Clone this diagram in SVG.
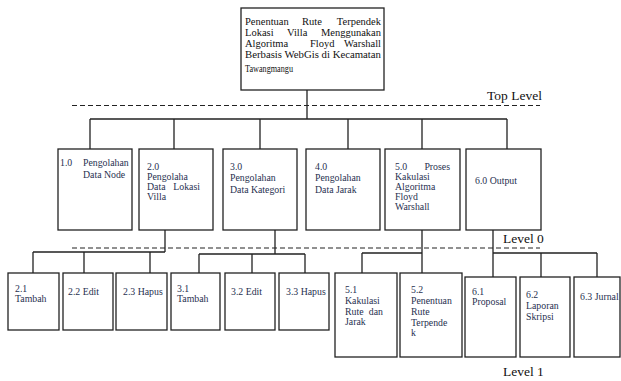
<svg xmlns="http://www.w3.org/2000/svg" width="621" height="381" viewBox="0 0 621 381">
<style>
.box{fill:#fff;stroke:#222;stroke-width:1.3}
.ln{fill:none;stroke:#222;stroke-width:1.3}
.dash{fill:none;stroke:#222;stroke-width:1.2;stroke-dasharray:5,3}
.t{font-family:"Liberation Serif","Times New Roman",serif;font-size:9.8px;fill:#27304f}
.title{font-family:"Liberation Serif","Times New Roman",serif;font-size:10.5px;fill:#111}
.lvl{font-family:"Liberation Serif","Times New Roman",serif;font-size:13.5px;fill:#111}
.e{text-anchor:end}
</style>
<rect width="621" height="381" fill="#fff"/>
<g id="connectors">
<path class="ln" d="M307 90V119M90 119H507M90 119V149M174 119V149M260 119V149M348 119V149M422 119V149M507 119V149"/>
<path class="ln" d="M165 230V252M33 252H165M33 252V273M84 252V273M150 252V273"/>
<path class="ln" d="M275 230V254M199 254H305M199 254V273M252 254V273M305 254V273"/>
<path class="ln" d="M422 230V273M362 253H422M362 253V273"/>
<path class="ln" d="M493 230V277M493 253H597M541 253V277M597 253V277"/>
</g>
<g id="levels">
<path class="dash" d="M72 105.5H540"/>
<text class="lvl" x="487" y="100">Top Level</text>
<path class="dash" d="M72 248H540"/>
<text class="lvl" x="503" y="243">Level 0</text>
<text class="lvl" x="503" y="376">Level 1</text>
</g>
<g id="root">
<rect class="box" x="241" y="8" width="143" height="82"/>
<text class="title" x="245" y="25">Penentuan</text><text class="title" x="302" y="25">Rute</text><text class="title e" x="381" y="25">Terpendek</text>
<text class="title" x="245" y="36">Lokasi</text><text class="title" x="287" y="36">Villa</text><text class="title e" x="381" y="36">Menggunakan</text>
<text class="title" x="245" y="47">Algoritma</text><text class="title" x="310" y="47">Floyd</text><text class="title e" x="381" y="47">Warshall</text>
<text class="title" x="245" y="58" textLength="136" lengthAdjust="spacingAndGlyphs">Berbasis WebGis di Kecamatan</text>
<text class="title" x="245" y="72" textLength="48" lengthAdjust="spacingAndGlyphs">Tawangmangu</text>
</g>
<g id="n1"><rect class="box" x="58" y="149" width="74" height="81"/>
<text class="t" x="60" y="166">1.0</text><text class="t" x="83" y="166">Pengolahan</text><text class="t" x="83" y="178">Data Node</text></g>
<g id="n2"><rect class="box" x="139" y="149" width="74" height="81"/>
<text class="t" x="147" y="170">2.0</text><text class="t" x="147" y="180">Pengolaha</text><text class="t" x="147" y="190">Data</text><text class="t e" x="200" y="190">Lokasi</text><text class="t" x="147" y="200">Villa</text></g>
<g id="n3"><rect class="box" x="223" y="149" width="74" height="81"/>
<text class="t" x="230" y="170">3.0</text><text class="t" x="230" y="181">Pengolahan</text><text class="t" x="230" y="193">Data Kategori</text></g>
<g id="n4"><rect class="box" x="306" y="149" width="74" height="81"/>
<text class="t" x="315" y="170">4.0</text><text class="t" x="315" y="181">Pengolahan</text><text class="t" x="315" y="193">Data Jarak</text></g>
<g id="n5"><rect class="box" x="385" y="149" width="75" height="81"/>
<text class="t" x="395" y="170">5.0</text><text class="t e" x="450" y="170">Proses</text><text class="t" x="395" y="180">Kakulasi</text><text class="t" x="395" y="190">Algoritma</text><text class="t" x="395" y="200">Floyd</text><text class="t" x="395" y="210">Warshall</text></g>
<g id="n6"><rect class="box" x="466" y="149" width="75" height="81"/>
<text class="t" x="475" y="184">6.0 Output</text></g>
<g id="n21"><rect class="box" x="8" y="273" width="51" height="57"/>
<text class="t" x="15" y="292">2.1</text><text class="t" x="15" y="302">Tambah</text></g>
<g id="n22"><rect class="box" x="63" y="273" width="50" height="57"/>
<text class="t" x="68" y="295">2.2 Edit</text></g>
<g id="n23"><rect class="box" x="116" y="273" width="51" height="57"/>
<text class="t" x="123" y="295">2.3 Hapus</text></g>
<g id="n31"><rect class="box" x="171" y="273" width="49" height="57"/>
<text class="t" x="177" y="292">3.1</text><text class="t" x="177" y="302">Tambah</text></g>
<g id="n32"><rect class="box" x="225" y="273" width="50" height="57"/>
<text class="t" x="231" y="295">3.2 Edit</text></g>
<g id="n33"><rect class="box" x="279" y="273" width="50" height="57"/>
<text class="t" x="286" y="295">3.3 Hapus</text></g>
<g id="n51"><rect class="box" x="335" y="273" width="62" height="84"/>
<text class="t" x="345" y="293">5.1</text><text class="t" x="345" y="304">Kakulasi</text><text class="t" x="345" y="315">Rute</text><text class="t e" x="383" y="315">dan</text><text class="t" x="345" y="325">Jarak</text></g>
<g id="n52"><rect class="box" x="400" y="273" width="62" height="84"/>
<text class="t" x="411" y="293">5.2</text><text class="t" x="411" y="304">Penentuan</text><text class="t" x="411" y="315">Rute</text><text class="t" x="411" y="326">Terpende</text><text class="t" x="411" y="336">k</text></g>
<g id="n61"><rect class="box" x="465" y="277" width="51" height="80"/>
<text class="t" x="472" y="295">6.1</text><text class="t" x="472" y="305">Proposal</text></g>
<g id="n62"><rect class="box" x="520" y="277" width="50" height="80"/>
<text class="t" x="526" y="298">6.2</text><text class="t" x="526" y="309">Laporan</text><text class="t" x="526" y="320">Skripsi</text></g>
<g id="n63"><rect class="box" x="574" y="277" width="46" height="80"/>
<text class="t" x="580" y="300">6.3 Jurnal</text></g>
</svg>
